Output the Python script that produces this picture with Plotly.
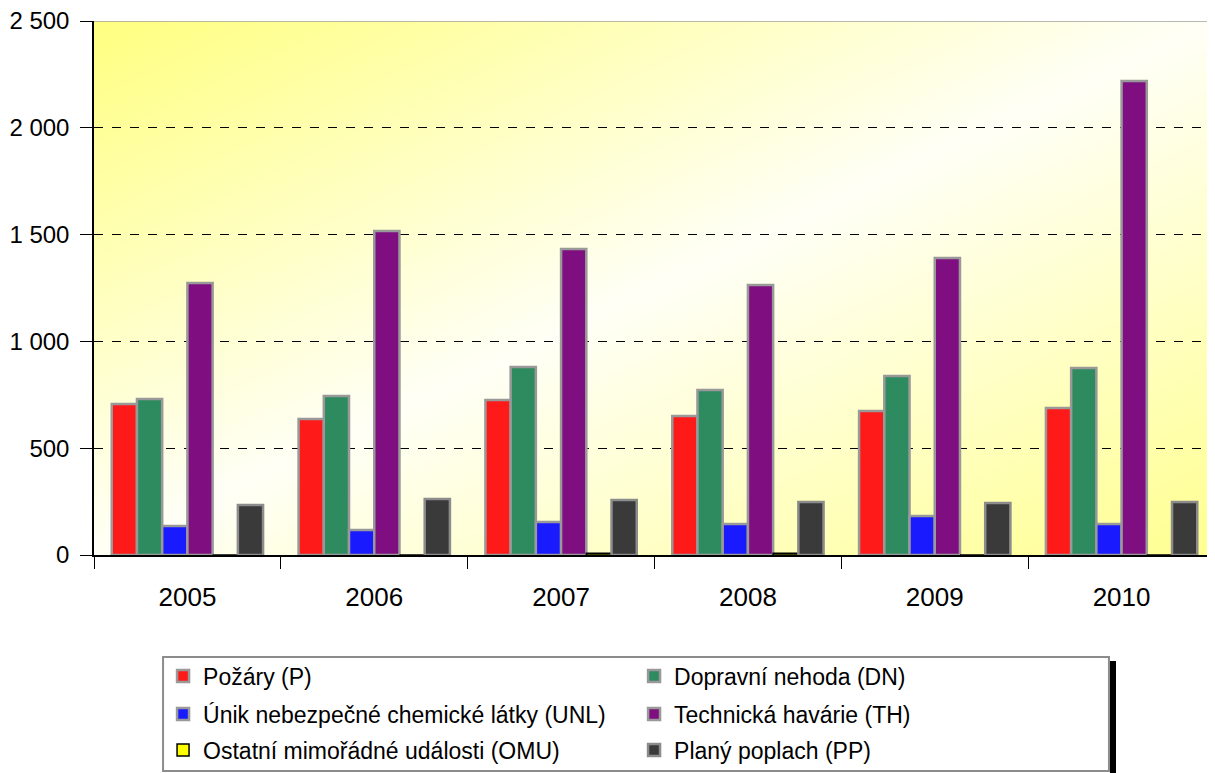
import base64
import plotly.graph_objects as go

years = ['2005', '2006', '2007', '2008', '2009', '2010']

series_names = [
    'Požáry (P)',
    'Dopravní nehoda (DN)',
    'Únik nebezpečné chemické látky (UNL)',
    'Technická havárie (TH)',
    'Ostatní mimořádné události (OMU)',
    'Planý poplach (PP)',
]

pozary = [707, 637, 726, 651, 674, 688]
dopravni_nehoda = [730, 744, 880, 772, 838, 875]
unik_unl = [136, 117, 154, 145, 183, 145]
technicka_havarie = [1273, 1517, 1433, 1264, 1390, 2219]
ostatni_omu = [0, 0, 8, 8, 0, 0]
plany_poplach = [234, 262, 257, 248, 243, 248]

series_values = [pozary, dopravni_nehoda, unik_unl, technicka_havarie, ostatni_omu, plany_poplach]
series_colors = ['#ff1a1a', '#2e8b60', '#1a1aff', '#7f0f80', '#ffff00', '#3a3a3a']
line_colors = ['#999999', '#999999', '#999999', '#999999', '#000000', '#8c8c8c']
# which legend row each series sits in (two entries per row)
legend_rows = ['legend', 'legend', 'legend2', 'legend2', 'legend3', 'legend3']

y_ticks = [0, 500, 1000, 1500, 2000, 2500]


def main() -> None:
    # yellow diagonal gradient for the plot area
    svg = (
        '<svg xmlns="http://www.w3.org/2000/svg" width="100" height="100" preserveAspectRatio="none">'
        '<defs><linearGradient id="g" x1="0" y1="0" x2="1" y2="1">'
        '<stop offset="0" stop-color="#ffff80"/>'
        '<stop offset="0.5" stop-color="#fffff6"/>'
        '<stop offset="1" stop-color="#ffff90"/>'
        '</linearGradient></defs>'
        '<rect width="100" height="100" fill="url(#g)"/></svg>'
    )
    bg_src = 'data:image/svg+xml;base64,' + base64.b64encode(svg.encode()).decode()

    fig = go.Figure()

    for name, vals, col, lcol, leg in zip(series_names, series_values, series_colors, line_colors, legend_rows):
        fig.add_trace(
            go.Bar(
                x=years,
                y=vals,
                name=name,
                legend=leg,
                marker=dict(color=col, line=dict(color=lcol, width=2.5 if lcol != '#000000' else 1.5)),
            )
        )

    # grey top border of the plot area
    fig.add_shape(
        type='line', xref='paper', yref='y', x0=0, x1=1, y0=2500, y1=2500,
        line=dict(color='#a0a0a0', width=1.5), layer='above',
    )
    # legend frame and its black drop shadow
    fig.add_shape(
        type='rect', xref='paper', yref='paper', x0=0.9063, x1=0.9117, y0=-0.42, y1=-0.1985,
        fillcolor='black', line=dict(width=0),
    )
    fig.add_shape(
        type='rect', xref='paper', yref='paper', x0=0.0616, x1=0.9054, y0=-0.4045, y1=-0.191,
        fillcolor='white', line=dict(color='#8c8c8c', width=2),
    )

    legend_style = dict(
        orientation='h',
        x=0.0616,
        xanchor='left',
        yanchor='middle',
        entrywidth=426,
        entrywidthmode='pixels',
        bgcolor='rgba(0,0,0,0)',
        borderwidth=0,
        font=dict(size=23),
        traceorder='normal',
    )

    fig.update_layout(
        width=1207,
        height=765,
        margin=dict(l=86, r=0, t=13, b=218),
        paper_bgcolor='white',
        plot_bgcolor='white',
        separators=', ',
        font=dict(family='Liberation Sans, Arial, sans-serif', size=24, color='black'),
        barmode='group',
        bargap=0.19,
        bargroupgap=0,
        showlegend=True,
        legend=dict(legend_style, y=-0.2266),
        legend2=dict(legend_style, y=-0.2978),
        legend3=dict(legend_style, y=-0.3652),
        images=[dict(
            source=bg_src, xref='paper', yref='paper', x=0, y=1, sizex=1, sizey=1,
            sizing='stretch', layer='below', xanchor='left', yanchor='top',
        )],
    )

    fig.update_xaxes(
        automargin=False,
        showline=True,
        linecolor='black',
        linewidth=1.5,
        ticks='outside',
        tickson='boundaries',
        ticklen=12,
        tickcolor='black',
        tickfont=dict(size=26),
        ticklabelstandoff=18,
        showgrid=False,
    )
    fig.update_yaxes(
        automargin=False,
        range=[0, 2500],
        tickvals=y_ticks,
        tickformat=',',
        ticklabeloverflow='allow',
        showline=True,
        linecolor='black',
        linewidth=1.5,
        ticks='outside',
        ticklen=12,
        tickcolor='black',
        tickfont=dict(size=24),
        ticklabelstandoff=6,
        showgrid=True,
        gridcolor='black',
        griddash='dash',
        gridwidth=1,
        zeroline=False,
    )

    fig.write_html('out.html')


if __name__ == '__main__':
    main()
